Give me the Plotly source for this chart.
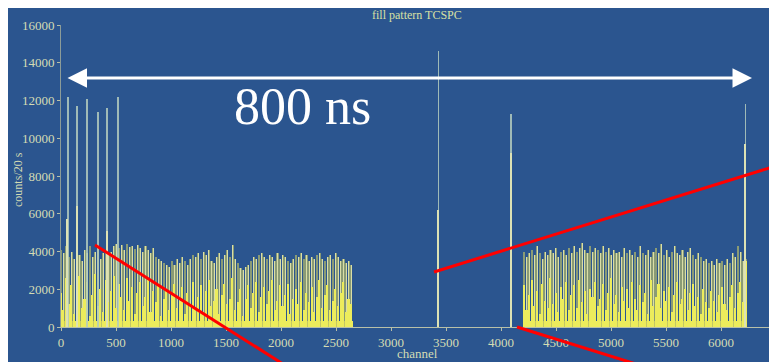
import plotly.graph_objects as go
import numpy as np

# ---------------- data ----------------
bunch_spacing = 24          # channels between RF buckets
train1_start = 0
train2_start = 4210

train1_peak = [4100, 3900, 4300, 3700, 4000, 3600, 4200, 3800, 3500, 4100,
               3900, 4300, 3700, 4000, 4200, 3600, 3900, 4100, 3800, 4000,
               4300, 4400, 4200, 4350, 4100, 4400, 4250, 4300, 4150, 4350,
               4200, 4000, 4300, 4100, 3900, 4200, 3700, 3600, 3500, 3400,
               3300, 3200, 3500, 3300, 3600, 3400, 3700, 3500, 3300, 3600,
               3800, 3700, 3900, 3600, 4000, 3800, 4100, 3500, 3400, 3700,
               3900, 3600, 3800, 4100, 3700, 4350, 3600, 3400, 3100, 3000,
               3200, 3300, 3500, 3700, 3600, 3800, 3900, 3700, 3600, 3800,
               3700, 3500, 3900, 3600, 3800, 3700, 3500, 3400, 3600, 3800,
               3700, 3900, 3600, 3800, 3500, 3700, 3600, 3800, 3900, 3600,
               3500, 3700, 3800, 3600, 3900, 3700, 3500, 3600, 3400, 3500, 3300]
train1_core = [1800, 900, 2600, 1200, 2200, 700, 1900, 2700, 1000, 1500,
               2400, 600, 1700, 2800, 1100, 2000, 800, 2500, 1300, 1900,
               2700, 1000, 2300, 1600, 900, 2600, 1400, 2100, 700, 1800,
               2400, 1100, 1600, 2500, 800, 1900, 1300, 2200, 600, 1500,
               2000, 900, 1700, 2300, 1000, 1400, 2100, 700, 1800, 1200,
               2400, 1000, 1600, 2200, 800, 1900, 2500, 1100, 1400, 2000,
               700, 1700, 2300, 1200, 1500, 2600, 900, 1300, 2000, 600,
               1500, 2200, 1000, 1800, 2400, 800, 1600, 2100, 1200, 1900,
               2500, 900, 1400, 2200, 1100, 1700, 2300, 700, 1500, 2000,
               1200, 2400, 900, 1800, 1300, 2100, 800, 1600, 2500, 1000,
               1700, 2200, 900, 1400, 2000, 1100, 1800, 2400, 800, 1500, 1200]

train2_peak = [4000, 3700, 3900, 4100, 3800, 4300, 3900, 3600, 4000, 3800,
               4100, 3900, 4200, 3700, 4000, 4100, 3800, 4200, 3900, 4300,
               4000, 4200, 4450, 4100, 3900, 4300, 4000, 4200, 4100, 3900,
               4300, 4000, 4200, 3800, 4100, 3900, 4000, 3700, 4200, 3900,
               4100, 3800, 4000, 3700, 4300, 3900, 3800, 4100, 3700, 4000,
               4200, 3900, 4400, 3800, 4100, 3700, 4000, 4300, 3900, 3800,
               4100, 3700, 4000, 4200, 3800, 3600, 3900, 3700, 3500, 3600,
               3400, 3500, 3300, 3600, 3400, 3500, 3300, 3600, 3400, 3900,
               3700, 4300, 4000, 3500, 3600]
train2_core = [2200, 900, 1700, 2500, 1100, 1900, 700, 2300, 1400, 1000,
               2600, 1200, 1800, 800, 2100, 1500, 2400, 900, 1700, 2200,
               1000, 2500, 1300, 1900, 700, 2000, 1600, 2400, 1100, 1500,
               2300, 900, 1800, 2600, 1200, 1700, 800, 2100, 1400, 2000,
               1000, 2400, 1500, 900, 2200, 1300, 1800, 700, 2500, 1100,
               1600, 2300, 1000, 1900, 1400, 2100, 800, 1700, 2400, 1200,
               1500, 2000, 900, 1800, 2300, 1100, 1600, 700, 2000, 1300,
               1000, 1900, 1400, 800, 1700, 2100, 1200, 900, 1600, 2200,
               1000, 1800, 2400, 1300, 3500]

spike_channel = [64, 145, 236, 336, 418, 518, 3430, 4090, 6220]
spike_height = [12200, 11700, 12100, 11400, 11600, 12200, 14600, 11300, 11800]
mid_channel = [55, 145, 418, 3430, 4090, 6220]
mid_height = [5700, 6400, 5100, 6200, 9200, 9700]

baseline_level = 300

x_ticks = [0, 500, 1000, 1500, 2000, 2500, 3000, 3500, 4000, 4500, 5000, 5500, 6000, 6500]
y_ticks = [0, 2000, 4000, 6000, 8000, 10000, 12000, 14000, 16000]

# ---------------- figure ----------------
ch1 = train1_start + bunch_spacing * np.arange(len(train1_peak))
ch2 = train2_start + bunch_spacing * np.arange(len(train2_peak))
ch_all = np.concatenate([ch1, ch2])
peak_all = train1_peak + train2_peak
core_all = train1_core + train2_core

BLUE = "#2b558f"
PALE = "rgba(222,226,170,0.95)"
OLIVE = "rgba(180,185,105,0.70)"
YEL = "#ecec5c"
TXT = "#d4dcb4"

W, H = 769, 354
L, T = 53, 17
PW, PH = 715, 302

fig = go.Figure()
fig.add_trace(go.Bar(x=ch_all, y=[baseline_level] * len(ch_all), width=bunch_spacing,
                     marker=dict(color=YEL, line=dict(width=0)), hoverinfo="skip"))
fig.add_trace(go.Bar(x=ch_all, y=peak_all, width=19,
                     marker=dict(color=OLIVE, line=dict(width=0))))
fig.add_trace(go.Bar(x=ch_all, y=peak_all, width=7,
                     marker=dict(color=PALE, line=dict(width=0))))
fig.add_trace(go.Bar(x=ch_all, y=core_all, width=14,
                     marker=dict(color=YEL, line=dict(width=0))))
fig.add_trace(go.Bar(x=spike_channel, y=spike_height, width=12,
                     marker=dict(color="rgba(180,205,190,0.85)", line=dict(width=0))))
fig.add_trace(go.Bar(x=mid_channel, y=mid_height, width=12,
                     marker=dict(color="#dde2b4", line=dict(width=0))))

fig.update_layout(
    barmode="overlay", bargap=0,
    width=W, height=H,
    margin=dict(l=L, r=W - L - PW, t=T, b=H - T - PH),
    paper_bgcolor=BLUE, plot_bgcolor=BLUE,
    showlegend=False,
    font=dict(family="Liberation Serif, Times New Roman, serif", color=TXT, size=13),
)
fig.update_xaxes(range=[0, 6500], tickvals=x_ticks, ticktext=[str(v) for v in x_ticks],
                 ticks="outside", ticklen=3,
                 tickcolor="#b8c0a8", showgrid=False, zeroline=False,
                 showline=True, linecolor="#b8c0a8", linewidth=1,
                 tickfont=dict(size=13, color=TXT))
fig.update_yaxes(range=[0, 16000], tickvals=y_ticks, ticktext=[str(v) for v in y_ticks],
                 ticks="outside", ticklen=3,
                 tickcolor="#b8c0a8", showgrid=False, zeroline=False,
                 showline=True, linecolor="#8c9c98", linewidth=1,
                 tickfont=dict(size=13, color=TXT))

def px(x):
    return (x - 8 - L) / PW
def py(y):
    return (T + PH + 8 - y) / PH

def label(text, x, y, size, color, angle=0):
    fig.add_annotation(text=text, xref="paper", yref="paper", x=px(x), y=py(y),
                       xanchor="center", yanchor="middle", showarrow=False,
                       textangle=angle, font=dict(size=size, color=color))

label("fill pattern TCSPC", 417, 15, 12, "#d8e0a4")
label("channel", 417, 354, 13, TXT)
label("counts/20 s", 18, 180, 12, TXT, angle=-90)

fig.add_annotation(xref="x domain", yref="y domain", axref="x domain", ayref="y domain",
                   x=px(752), y=py(78), ax=px(66), ay=py(78),
                   showarrow=True, arrowside="end+start", arrowhead=2,
                   arrowsize=1.3, arrowwidth=3, arrowcolor="white", text="")
fig.add_annotation(text="800 ns", xref="paper", yref="paper",
                   x=px(302), y=py(106), xanchor="center", yanchor="middle",
                   showarrow=False,
                   font=dict(size=52, color="white",
                             family="Liberation Serif, Times New Roman, serif"))

for (x0, y0, x1, y1) in [(95, 245, 283, 364), (434, 272, 779, 165), (517, 327, 636, 364)]:
    fig.add_shape(type="line", xref="paper", yref="paper",
                  x0=px(x0), y0=py(y0), x1=px(x1), y1=py(y1),
                  line=dict(color="#ff0000", width=3))

# slide frame: light strip on top and left edge
fig.add_shape(type="rect", xref="paper", yref="paper",
              x0=px(-2), x1=px(780), y0=py(5), y1=py(-2),
              line=dict(width=0), fillcolor="#e2e4e8")
fig.add_shape(type="line", xref="paper", yref="paper",
              x0=px(6), x1=px(780), y0=py(5.5), y1=py(5.5),
              line=dict(width=1, color="#6f7780"))
fig.add_shape(type="rect", xref="paper", yref="paper",
              x0=px(-2), x1=px(6), y0=py(364), y1=py(-2),
              line=dict(width=0), fillcolor="#e2e4e8")

fig.write_html("out.html")
